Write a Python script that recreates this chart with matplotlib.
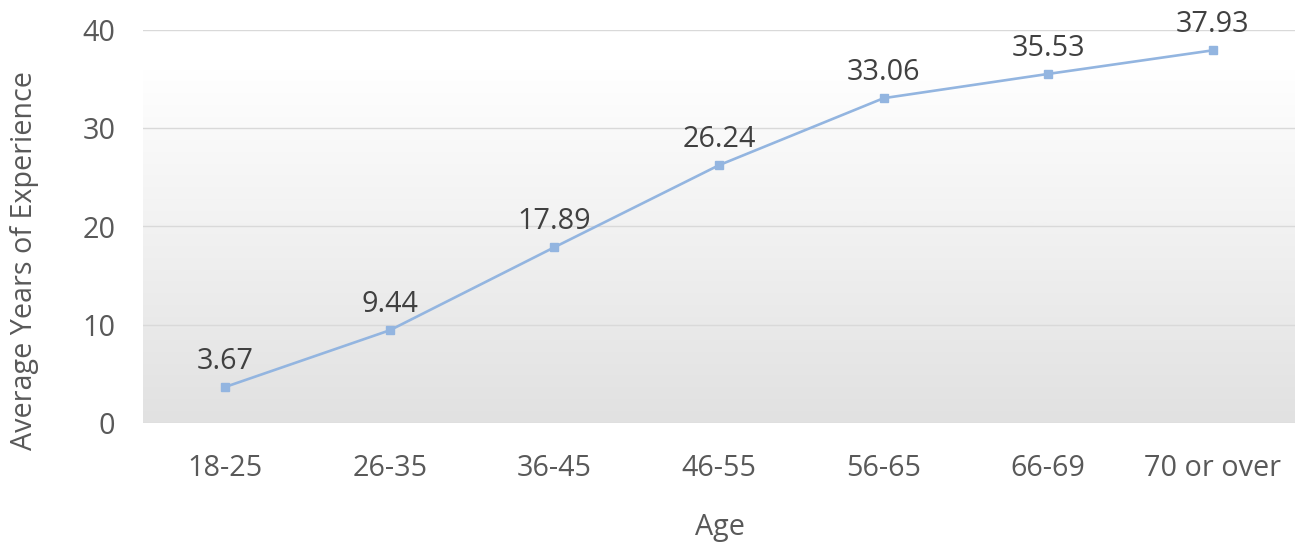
import matplotlib
matplotlib.use("Agg")
import matplotlib.pyplot as plt
import numpy as np
from matplotlib.colors import LinearSegmentedColormap

plt.rcParams['font.family'] = ['Open Sans', 'DejaVu Sans']

# Data
age_groups = ["18-25", "26-35", "36-45", "46-55", "56-65", "66-69", "70 or over"]
avg_experience = [3.67, 9.44, 17.89, 26.24, 33.06, 35.53, 37.93]
y_ticks = [0, 10, 20, 30, 40]

LINE_COLOR = "#93B5E0"
TICK_COLOR = "#595959"
LABEL_COLOR = "#404040"
GRID_COLOR = "#D9D9D9"
FS = 20.7

fig = plt.figure(figsize=(13.02, 5.46), dpi=100)
ax = fig.add_axes([143 / 1302, 123 / 546, 1152 / 1302, 393 / 546])

x = np.arange(len(age_groups))
ax.set_xlim(-0.5, len(age_groups) - 0.5)
ax.set_ylim(0, 40)

# Soft vertical gradient in the plot area (white at top, light gray at bottom)
grad_cmap = LinearSegmentedColormap.from_list("bg", ["#E1E1E1", "#FFFFFF"])
grad = np.linspace(0, 1, 256).reshape(-1, 1)
ax.imshow(grad, cmap=grad_cmap, aspect="auto", origin="lower",
          extent=(-0.5, len(age_groups) - 0.5, 0, 36), zorder=0)

# Gridlines
for t in y_ticks:
    ax.axhline(t, color=GRID_COLOR, linewidth=1.0, zorder=1)

ax.plot(x, avg_experience, color=LINE_COLOR, linewidth=1.9, marker="s",
        markersize=5.5, markerfacecolor=LINE_COLOR, markeredgecolor=LINE_COLOR,
        zorder=3)

for xi, v in zip(x, avg_experience):
    ax.annotate(f"{v:.2f}", (xi, v), xytext=(0, 13), textcoords="offset points",
                ha="center", va="baseline", fontsize=FS, color=LABEL_COLOR,
                annotation_clip=False, zorder=4)

for s in ax.spines.values():
    s.set_visible(False)

ax.set_xticks(x)
ax.set_xticklabels(age_groups)
ax.set_yticks(y_ticks)
ax.tick_params(axis="both", length=0, labelsize=FS, labelcolor=TICK_COLOR)
ax.tick_params(axis="x", pad=22)
ax.tick_params(axis="y", pad=20)

fig.text(720 / 1302, 1 - 527 / 546, "Age", ha="center", va="center",
         fontsize=FS, color=TICK_COLOR)
fig.text(25 / 1302, 1 - 261 / 546, "Average Years of Experience", ha="center",
         va="center", rotation=90, fontsize=FS, color=TICK_COLOR)

fig.savefig("out.png", dpi=100, facecolor="white")
